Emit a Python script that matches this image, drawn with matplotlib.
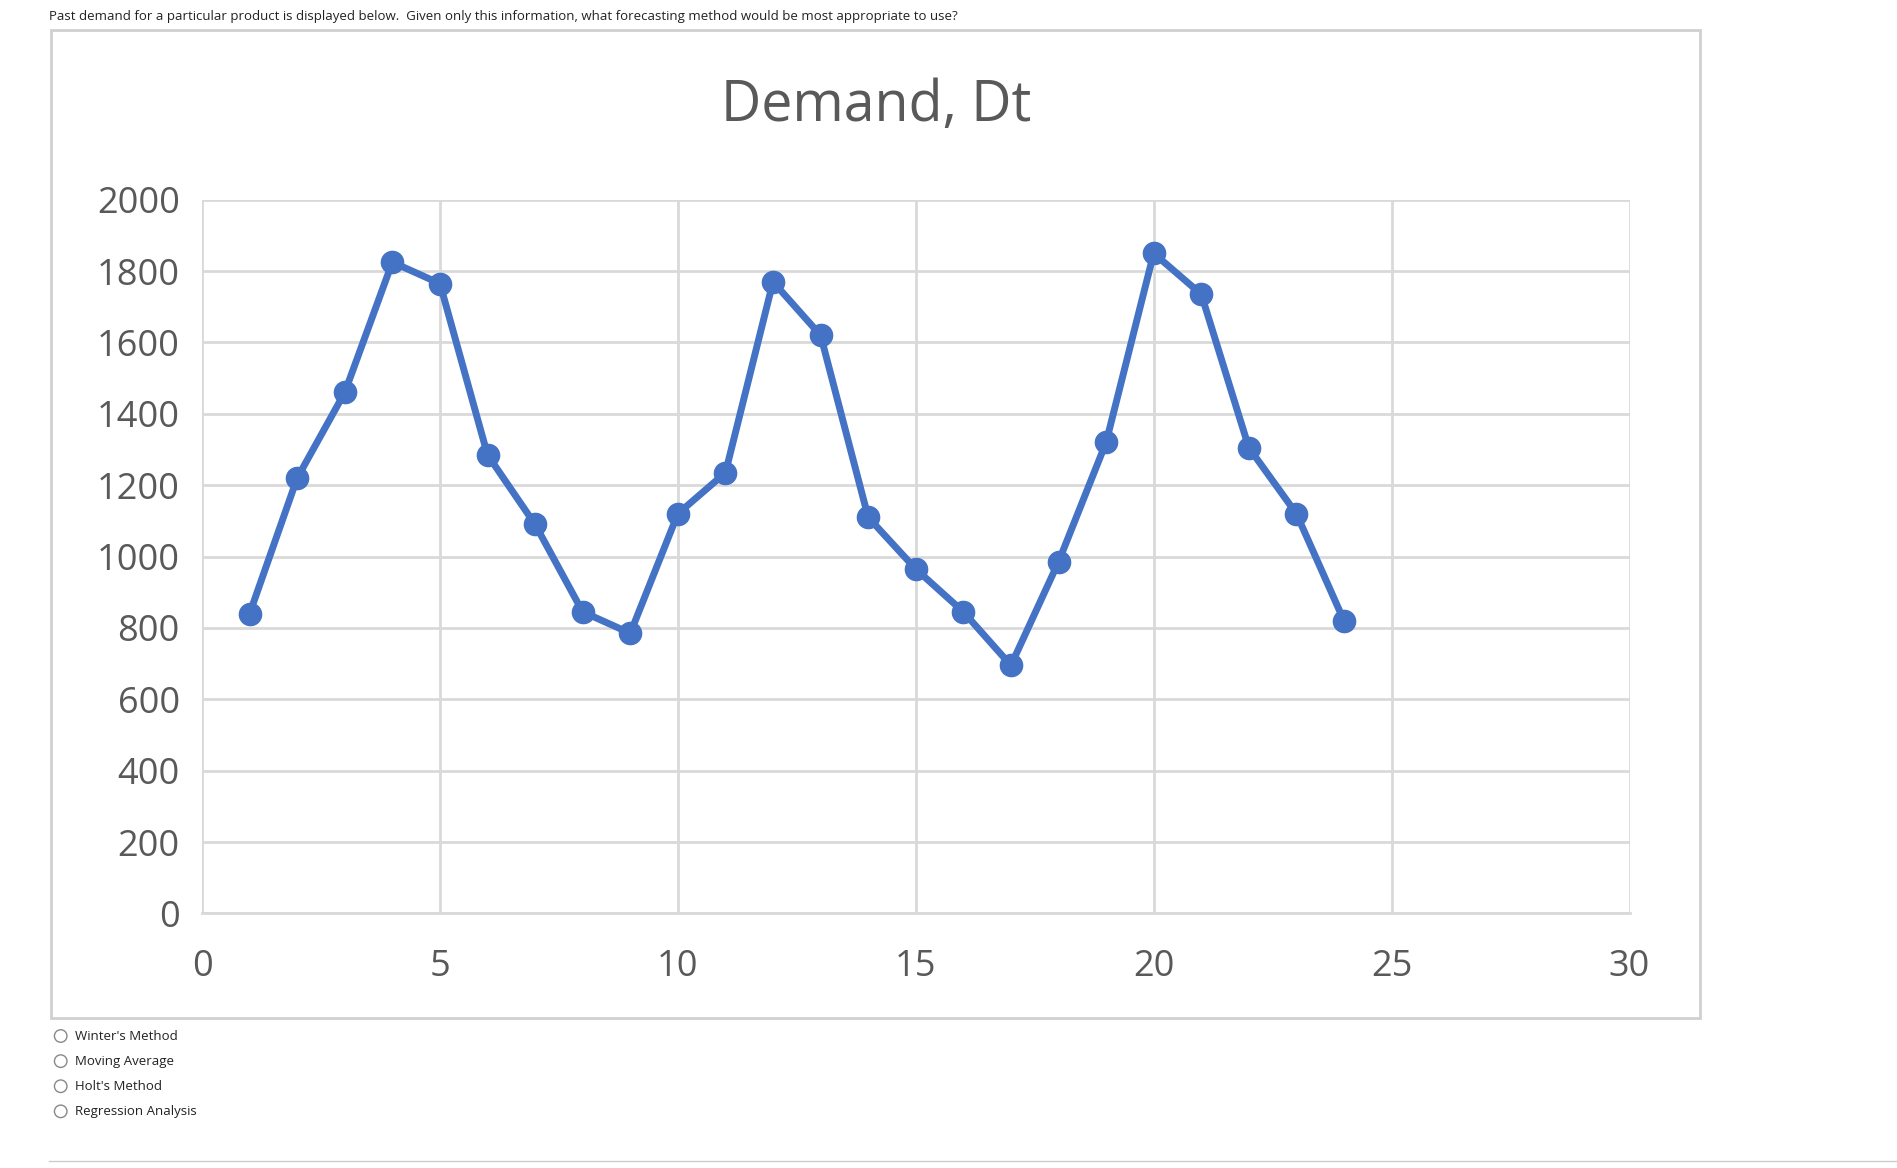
import matplotlib.pyplot as plt
from matplotlib.patches import Rectangle, Ellipse

periods = list(range(1, 25))
demand = [840, 1220, 1460, 1825, 1765, 1285, 1090, 845, 785, 1120, 1235, 1770,
          1620, 1110, 965, 845, 695, 985, 1320, 1850, 1735, 1305, 1120, 820]
question = ("Past demand for a particular product is displayed below.  Given only this "
            "information, what forecasting method would be most appropriate to use?")
options = ["Winter's Method", "Moving Average", "Holt's Method", "Regression Analysis"]

plt.rcParams['font.family'] = ['Open Sans', 'DejaVu Sans']
fig = plt.figure(figsize=(18.97, 11.68), dpi=100)

# chart frame
fig.patches.append(Rectangle((0.027, 0.128), 0.869, 0.846, transform=fig.transFigure,
                             fill=False, edgecolor='#d0d0d0', linewidth=2))
fig.text(0.026, 0.986, question, fontsize=9.5, va='center', color='#222222')
fig.text(0.462, 0.909, 'Demand, Dt', fontsize=40, ha='center', va='center', color='#595959')

ax = fig.add_axes([0.1065, 0.218, 0.7525, 0.611])
ax.plot(periods, demand, color='#4472C4', linewidth=5, marker='o', markersize=16, zorder=3)
ax.set_xlim(0, 30)
ax.set_ylim(0, 2000)
ax.set_xticks(range(0, 31, 5))
ax.set_yticks(range(0, 2001, 200))
ax.grid(True, color='#d9d9d9', linewidth=2)
for s in ['top', 'right', 'left']:
    ax.spines[s].set_visible(False)
ax.spines['bottom'].set_color('#d9d9d9')
ax.spines['bottom'].set_linewidth(2)
ax.tick_params(length=0, labelsize=26, labelcolor='#595959')
ax.tick_params(axis='x', pad=26)
ax.tick_params(axis='y', pad=16)

ratio = 1897 / 1168
for i, opt in enumerate(options):
    y = 0.113 - i * 0.0215
    fig.patches.append(Ellipse((0.032, y), 0.0066, 0.0066 * ratio, transform=fig.transFigure,
                               fill=False, edgecolor='#888888', linewidth=1))
    fig.text(0.0395, y, opt, fontsize=9.5, va='center', color='#222222')

fig.add_artist(plt.Line2D([0.026, 1.0], [0.006, 0.006], transform=fig.transFigure,
                          color='#cccccc', linewidth=1))

fig.savefig('out.png', dpi=100, facecolor='white')
